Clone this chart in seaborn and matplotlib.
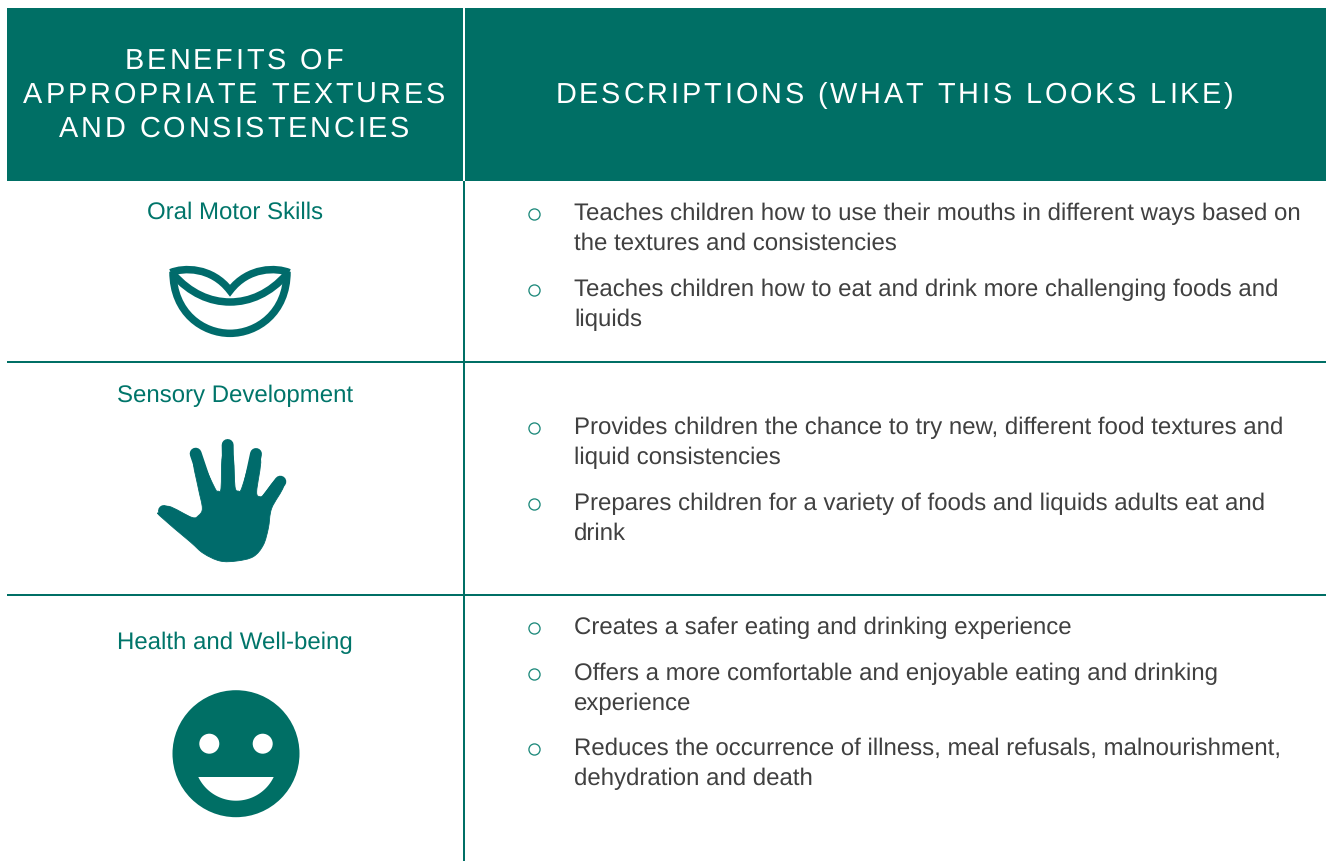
"""Benefits of appropriate textures and consistencies - table drawn on a pixel axes."""
import numpy as np
import matplotlib
matplotlib.use("Agg")
import matplotlib.pyplot as plt
import matplotlib.text as mtext
from matplotlib import font_manager
from matplotlib.patches import Circle, PathPatch, Polygon, Rectangle
from matplotlib.path import Path
import pandas as pd
import seaborn as sns

W, H = 1326, 861
DPI = 100

HEADER_LEFT = ["BENEFITS OF", "APPROPRIATE TEXTURES", "AND CONSISTENCIES"]
HEADER_LEFT_Y = [69, 103, 137]
HEADER_RIGHT = "DESCRIPTIONS (WHAT THIS LOOKS LIKE)"
HEADER_RIGHT_Y = 103

ROW_LABELS = ["Oral Motor Skills", "Sensory Development", "Health and Well-being"]
ROW_LABEL_Y = [219, 402, 649]

BULLET_LINES = [
    ["Teaches children how to use their mouths in different ways based on",
     "the textures and consistencies"],
    ["Teaches children how to eat and drink more challenging foods and",
     "liquids"],
    ["Provides children the chance to try new, different food textures and",
     "liquid consistencies"],
    ["Prepares children for a variety of foods and liquids adults eat and",
     "drink"],
    ["Creates a safer eating and drinking experience"],
    ["Offers a more comfortable and enjoyable eating and drinking",
     "experience"],
    ["Reduces the occurrence of illness, meal refusals, malnourishment,",
     "dehydration and death"],
]
BULLET_Y = [220, 296, 434, 510, 634, 680, 755]
LINE_PITCH = 30
RULE_Y = [362, 595]

TEAL = "#006F65"
HAND_TEAL = "#006B6B"
LABEL_TEAL = "#00756A"
BULLET_TEAL = "#1F8A7C"
BODY_GREY = "#404040"
FONT = "Liberation Sans"
HEADER_SIZE = 20.8
HEADER_TRACKING = 2.87
BODY_SIZE = 17.3


class TrackedText(mtext.Text):
    """One text object with letter spacing, matplotlib has no option for it.
    Placed by its centre, x is kept as the left edge."""

    def __init__(self, cx, y, s, tracking=0.0, **kw):
        super().__init__(cx, y, s, ha="left", va="baseline", **kw)
        self.tracking = tracking
        self.advances = self._advances()
        self.set_x(cx - (sum(self.advances) + tracking * (len(s) - 1)) / 2)

    def _advances(self):
        font = font_manager.get_font(font_manager.findfont(self.get_fontproperties()))
        font.set_size(self.get_fontsize(), DPI)
        return [font.load_char(ord(c)).linearHoriAdvance / 65536 for c in self.get_text()]

    def draw(self, renderer):
        full, x0 = self.get_text(), self.get_position()[0]
        x = x0
        for c, a in zip(full, self.advances):
            self.set_text(c)
            self.set_x(x)
            super().draw(renderer)
            x += a + self.tracking
        self.set_text(full)
        self.set_x(x0)


def zoomed(points, x0, y0):
    pts = np.asarray(points, dtype=float)
    return pts / 3 + [x0, y0]


def smooth_closed(points):
    # closed Catmull-Rom through the outline points, as bezier segments
    n = len(points)
    verts, codes = [points[0]], [Path.MOVETO]
    for i in range(n):
        p0, p1, p2, p3 = (points[(i + k) % n] for k in (-1, 0, 1, 2))
        verts += [p1 + (p2 - p0) / 6, p2 - (p3 - p1) / 6, p2]
        codes += [Path.CURVE4] * 3
    return Path(verts, codes)


def draw_mouth(ax):
    curves = [
        [(99, 65), (99, 190), (190, 250), (270, 250), (350, 250), (441, 190), (441, 65)],
        [(99, 72), (150, 130), (210, 156), (270, 156), (330, 156), (390, 130), (441, 72)],
        [(92, 68), (130, 52), (215, 50), (270, 122), (325, 50), (410, 52), (448, 68)],
    ]
    for c in curves:
        path = Path(zoomed(c, 140, 250), [Path.MOVETO] + [Path.CURVE4] * 6)
        ax.add_patch(PathPatch(path, fc="none", ec=HAND_TEAL, lw=5.4,
                               capstyle="butt", joinstyle="miter"))


def draw_hand(ax):
    outline = [
        (60, 262), (86, 244), (155, 277), (175, 272), (187, 250), (175, 190),
        (160, 110), (180, 100), (225, 190), (234, 198), (243, 190), (248, 90),
        (278, 90), (285, 185), (295, 198), (305, 190), (335, 100), (362, 105),
        (350, 200), (360, 215), (372, 208), (408, 165), (430, 185), (395, 250),
        (385, 310), (370, 360), (340, 395), (290, 408), (240, 408), (190, 385),
        (150, 350), (60, 273),
    ]
    ax.add_patch(PathPatch(smooth_closed(zoomed(outline, 140, 425)),
                           fc=HAND_TEAL, ec=HAND_TEAL, lw=0.6))
    # fingers and thumb as round capped strokes, the outline alone gave pointed tips
    fingers = [
        [(167, 86), (197, 175)],
        [(263, 60), (265, 175)],
        [(348, 87), (328, 180)],
        [(421, 170), (385, 218)],
        [(72, 258), (140, 290)],
    ]
    for finger in fingers:
        xy = zoomed(finger, 140, 425)
        ax.plot(xy[:, 0], xy[:, 1], color=HAND_TEAL, lw=8.6, solid_capstyle="round")


def draw_smiley(ax):
    ax.add_patch(Circle((236, 753.7), 63.5, fc=TEAL, ec="none"))
    for ex in (209.3, 262.7):
        ax.add_patch(Circle((ex, 743.7), 10, fc="white", ec="none"))
    # mouth is a circle segment
    chord_half, sag = 37.7, 23.7
    r = (chord_half ** 2 + sag ** 2) / (2 * sag)
    cy = 777 + sag - r
    a = np.arcsin(chord_half / r)
    t = np.linspace(-a, a, 60)
    ax.add_patch(Polygon(np.column_stack([236 + r * np.sin(t), cy + r * np.cos(t)]),
                         closed=True, fc="white", ec="none"))


sns.set_theme(style="white")
plt.rcParams["font.family"] = [FONT, "DejaVu Sans"]
plt.rcParams["text.hinting"] = "none"  # keeps line widths linear with font size

fig = plt.figure(figsize=(W / DPI, H / DPI), dpi=DPI, facecolor="white")
ax = fig.add_axes([0, 0, 1, 1])
ax.set_xlim(0, W)
ax.set_ylim(H, 0)

# ------ Header band and rules ------
ax.add_patch(Rectangle((7, 8), W - 7, 173, fc=TEAL, ec="none"))
ax.add_patch(Rectangle((462.7, 8), 2, 173, fc="white", ec="none"))
ax.add_patch(Rectangle((462.7, 181), 2, H - 181, fc=TEAL, ec="none"))
for y in RULE_Y:
    ax.add_patch(Rectangle((7, y - 1), W - 7, 2, fc=TEAL, ec="none"))

# ------ Header text ------
for line, y in zip(HEADER_LEFT, HEADER_LEFT_Y):
    ax.add_artist(TrackedText(234, y, line, tracking=HEADER_TRACKING, color="white",
                              fontsize=HEADER_SIZE, family=FONT))
ax.add_artist(TrackedText(894.5, HEADER_RIGHT_Y, HEADER_RIGHT, tracking=HEADER_TRACKING,
                          color="white", fontsize=HEADER_SIZE, family=FONT))

# ------ Row labels and icons ------
for label, y in zip(ROW_LABELS, ROW_LABEL_Y):
    ax.text(235, y, label, color=LABEL_TEAL, fontsize=BODY_SIZE, ha="center", va="baseline")
draw_mouth(ax)
draw_hand(ax)
draw_smiley(ax)

# ------ Bullets ------
for lines, y in zip(BULLET_LINES, BULLET_Y):
    for i, line in enumerate(lines):
        ax.text(574, y + i * LINE_PITCH, line, color=BODY_GREY, fontsize=BODY_SIZE,
                ha="left", va="baseline")

bullets = pd.DataFrame({"x": [534.3] * len(BULLET_Y), "y": np.array(BULLET_Y) - 6})
sns.scatterplot(data=bullets, x="x", y="y", ax=ax, marker="o", s=64,
                facecolor="white", edgecolor=BULLET_TEAL, linewidth=0.95,
                legend=False, zorder=3)

ax.set_xlim(0, W)
ax.set_ylim(H, 0)
ax.axis("off")

fig.savefig("out.png", dpi=DPI, facecolor="white")
plt.close(fig)
